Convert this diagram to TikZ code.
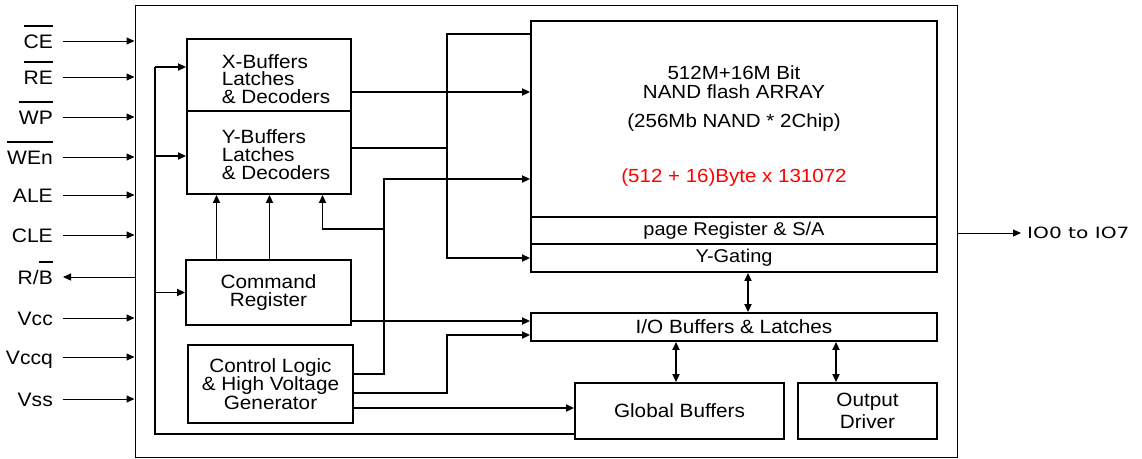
\documentclass[tikz,border=0pt]{standalone}
\usepackage{fontspec}
\setmainfont{Liberation Sans}[FakeStretch=1.08]
\newfontfamily\iofont{DejaVu Sans}[FakeStretch=1.3]
\usepackage{tikz}
\usetikzlibrary{arrows.meta}
\newcommand{\ovbar}[1]{\setbox0\hbox{#1}\rlap{\rule[21.5pt]{\wd0}{1.2pt}}\box0}

\begin{document}
\begin{tikzpicture}[x=1pt, y=-1pt,
    blk/.style={draw, line width=1.9pt, align=center, inner sep=0pt, font=\fontsize{19.2}{18.5}\selectfont},
    bus/.style={line width=1.9pt},
    wire/.style={line width=1.9pt, -{Triangle[length=8pt,width=7pt]}},
    duplex/.style={line width=1.9pt, {Triangle[length=8pt,width=7pt]}-{Triangle[length=8pt,width=7pt]}},
    sigin/.style={anchor=east, inner xsep=10pt, inner ysep=0pt, text height=14pt, text depth=0pt, font=\fontsize{19.5}{19.5}\selectfont},
    inwire/.style={line width=1pt, -{Triangle[length=8pt,width=7pt]}}]
    \useasboundingbox (0,0) rectangle (1142,458);
    \node[draw, line width=1pt, minimum width=822pt, minimum height=452pt] (chip) at (546,231) {};

    \node[blk, minimum width=164pt, minimum height=72pt, align=left, font=\fontsize{19.2}{17.5}\selectfont] (xbuf) at (269,75)
        {\hspace*{14pt}\rule{0pt}{22pt}X-Buffers\\\hspace*{14pt}Latches\\\hspace*{14pt}\& Decoders};
    \node[blk, minimum width=164pt, minimum height=83pt, align=left, font=\fontsize{19.2}{18}\selectfont] (ybuf) at (269,152.5)
        {\hspace*{14pt}\rule{0pt}{18pt}Y-Buffers\\\hspace*{14pt}Latches\\\hspace*{14pt}\& Decoders};
    \node[blk, minimum width=165pt, minimum height=65pt] (cmd) at (268.5,292.5) {Command\\Register};
    \node[blk, minimum width=165pt, minimum height=78pt] (ctrl) at (270.5,384) {Control Logic\\\& High Voltage\\Generator};
    \node[blk, minimum width=406pt, minimum height=196pt, font=\fontsize{19}{19}\selectfont] (array) at (734,119)
        {\rule{0pt}{27pt}512M+16M Bit\\NAND flash ARRAY\\[10pt](256Mb NAND * 2Chip)\\[36pt]\textcolor{red}{(512 + 16)Byte x 131072}};
    \node[blk, minimum width=406pt, minimum height=27pt, font=\fontsize{18.5}{18.5}\selectfont] (pagereg) at (734,230.5) {page Register \& S/A};
    \node[blk, minimum width=406pt, minimum height=28pt, font=\fontsize{18.5}{18.5}\selectfont] (ygate) at (734,258) {Y-Gating};
    \node[blk, minimum width=406pt, minimum height=28pt] (iobuf) at (734,327) {I/O Buffers \& Latches};
    \node[blk, minimum width=209pt, minimum height=56pt] (global) at (679.5,411) {Global Buffers};
    \node[blk, minimum width=139pt, minimum height=56pt] (outdrv) at (867.5,411) {Output\\[4pt]Driver};

    \foreach \nm/\txt/\y in {ce/\ovbar{CE}/41, re/\ovbar{RE}/77, wp/\ovbar{WP}/117, we/\ovbar{WEn}/157,
        ale/ALE/195, cle/CLE/235, vcc/Vcc/318, vccq/Vccq/357, vss/Vss/399} {
        \node[sigin] (\nm) at (63,\y) {\txt};
        \draw[inwire] (\nm.east) -- (\nm.east -| chip.west);
    }
    \node[sigin] (rb) at (63,277) {R/\ovbar{B}};
    \draw[inwire] (rb.east -| chip.west) -- (rb.east);
    \node[anchor=west, inner xsep=6pt, font=\iofont\fontsize{15.5}{15.5}\selectfont] (io) at (1021,233) {IO0 to IO7};
    \draw[inwire] (io.west -| chip.east) -- (io.west);

    \coordinate (bustop) at (155,67);
    \coordinate (busbot) at (155,434);
    \draw[bus] (global.west |- busbot) -- (busbot) -- (bustop);
    \draw[wire] (bustop) -- ([yshift=8pt]xbuf.west);
    \draw[wire] ([yshift=-3.5pt]ybuf.west -| bustop) -- ([yshift=-3.5pt]ybuf.west);
    \draw[wire] (cmd.west -| bustop) -- (cmd.west);

    \foreach \dx in {-52,1}
        \draw[wire] ([xshift=\dx pt]cmd.north) -- ([xshift=\dx pt]cmd.north |- ybuf.south);

    \coordinate (ctrltap) at (384,229);
    \draw[wire] ([yshift=10pt]ctrl.east) -| (ctrltap) |- ([yshift=-60pt]array.west);
    \draw[wire] (ctrltap) -| ([xshift=53.5pt]ybuf.south);

    \coordinate (ytap) at (447,148);
    \draw[bus] ([yshift=4.5pt]ybuf.east) -- (ytap);
    \draw[wire] ([yshift=85pt]array.west) -| (ytap) |- (ygate.west);
    \draw[wire] ([yshift=-17pt]xbuf.east) -- ([yshift=-17pt]xbuf.east -| array.west);
    \draw[wire] ([yshift=-28.5pt]cmd.east) -- ([yshift=-28.5pt]cmd.east -| iobuf.west);
    \draw[wire] ([yshift=-9pt]ctrl.east) -| ([yshift=-8pt]iobuf.west -| ytap) -- ([yshift=-8pt]iobuf.west);
    \draw[wire] ([yshift=-24pt]ctrl.east) -- ([yshift=-24pt]ctrl.east -| global.west);

    \draw[duplex] ([xshift=14pt]ygate.south) -- ([xshift=14pt]ygate.south |- iobuf.north);
    \draw[duplex] ([xshift=-3.5pt]global.north) -- ([xshift=-3.5pt]global.north |- iobuf.south);
    \draw[duplex] ([xshift=-31.5pt]outdrv.north) -- ([xshift=-31.5pt]outdrv.north |- iobuf.south);
\end{tikzpicture}
\end{document}
